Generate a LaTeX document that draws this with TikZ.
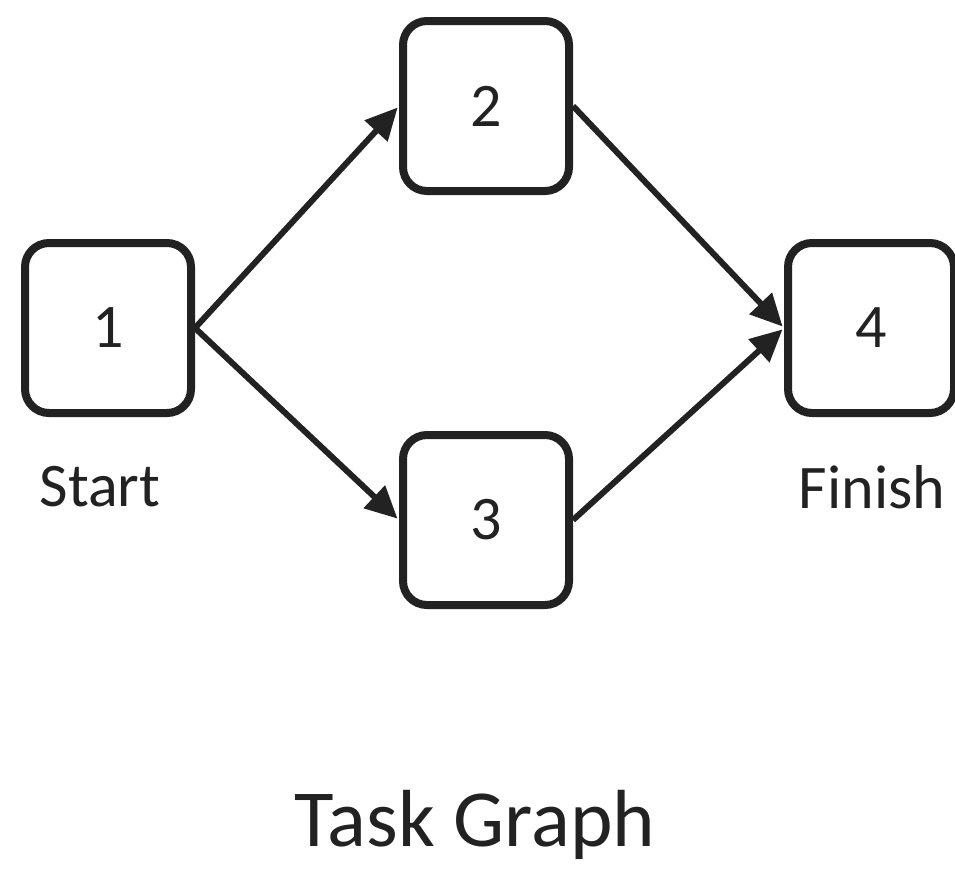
\documentclass[tikz,border=0pt]{standalone}
\usepackage{fontspec}
\setmainfont{Carlito}
\usetikzlibrary{arrows.meta}
\definecolor{ink}{HTML}{222222}
\begin{document}
\begin{tikzpicture}[x=1pt,y=-1pt,
  task/.style={draw=ink,line width=8pt,rounded corners=24pt,
    minimum width=166pt,minimum height=170pt,inner sep=0pt,
    font=\fontsize{62}{74}\selectfont,text=ink},
  label/.style={font=\fontsize{62}{74}\selectfont,text=ink,inner sep=0pt},
  link/.style={draw=ink,line width=6pt,
    -{Triangle[length=32pt,width=30pt]},shorten >=2pt}]
\useasboundingbox (0,0) rectangle (955,871);
\node[task] (t1) at (108,328) {1};
\node[task] (t2) at (486,106) {2};
\node[task] (t3) at (486,520) {3};
\node[task] (t4) at (871,328) {4};
\node[label] (start) at (100,487) {Start};
\node[label] (finish) at (872,487) {Finish};
\node[label,font=\fontsize{81}{96}\selectfont] (title) at (475,825) {Task Graph};
\draw[link] (t1.east) -- (t2.west);
\draw[link] (t1.east) -- (t3.west);
\draw[link] (t2.east) -- (t4.west);
\draw[link] (t3.east) -- (t4.west);
\end{tikzpicture}
\end{document}
